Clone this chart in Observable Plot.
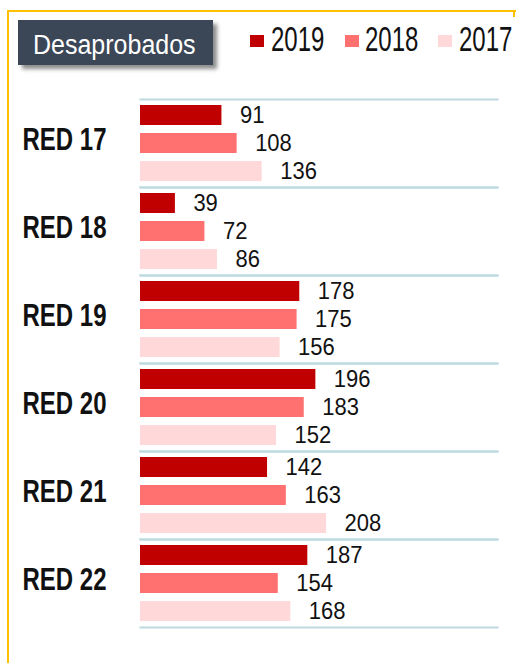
<!DOCTYPE html>
<html>
<head>
<meta charset="utf-8">
<script src="https://cdn.jsdelivr.net/npm/d3@7"></script>
<script src="https://cdn.jsdelivr.net/npm/@observablehq/plot@0.6"></script>
<style>
  html, body { margin: 0; padding: 0; background: #fff; }
  #page { position: relative; width: 516px; height: 663px; overflow: hidden; font-family: "Liberation Sans", Arial, sans-serif; }
  .yl { position: absolute; background: #ffc000; }
  #header { position: relative; height: 90px; }
  #titlebox { position: absolute; left: 18px; top: 20px; width: 195px; height: 45px; background: #3b4657; box-shadow: 4px 4px 4px rgba(0,0,0,0.45); }
  .stretch { position: absolute; white-space: nowrap; transform-origin: center center; }
  .sw { position: absolute; }
  #chart svg { display: block; overflow: visible; }
</style>
</head>
<body>
<div id="page">
  <div class="yl" style="left:7px; top:10px; width:509px; height:2px;"></div>
  <div class="yl" style="left:7px; top:10px; width:2px; height:653px;"></div>
  <div class="yl" style="left:513px; top:10px; width:2px; height:7px;"></div>
  <div id="header">
    <div id="titlebox"></div>
    <div class="stretch" id="title" style="left:33px; top:32px; font-size:25px; line-height:25px; color:#fff; transform:scaleY(1.1);">Desaprobados</div>
    <div id="legend"></div>
  </div>
  <div id="chart"></div>
</div>
<script>
const groups = ["RED 17", "RED 18", "RED 19", "RED 20", "RED 21", "RED 22"];
const years = ["2019", "2018", "2017"];
const values2019 = [91, 39, 178, 196, 142, 187];
const values2018 = [108, 72, 175, 183, 163, 154];
const values2017 = [136, 86, 156, 152, 208, 168];
const colors = ["#c00000", "#ff7171", "#ffd9d9"];

const seriesValues = [values2019, values2018, values2017];
const rows = [];
groups.forEach((g, gi) => {
  years.forEach((y, yi) => rows.push({group: g, year: y, value: seriesValues[yi][gi]}));
});

// legend
const legend = document.getElementById("legend");
const legendPos = [{sq: 250, tx: 271}, {sq: 345, tx: 365}, {sq: 438, tx: 459}];
years.forEach((y, i) => {
  const sq = document.createElement("div");
  sq.className = "sw";
  sq.style.cssText = `left:${legendPos[i].sq}px; top:35px; width:14px; height:12px; background:${colors[i]};`;
  legend.appendChild(sq);
  const t = document.createElement("div");
  t.className = "stretch";
  t.textContent = y;
  t.style.cssText = `left:${legendPos[i].tx}px; top:27px; font-size:24px; line-height:24px; color:#111; transform:scaleY(1.45);`;
  legend.appendChild(t);
});

const sepColor = "#bcd9df";
const plot = Plot.plot({
  width: 516,
  height: 573,
  marginTop: 8,
  marginBottom: 36,
  marginLeft: 140,
  marginRight: 19,
  style: {fontFamily: "'Liberation Sans', Arial, sans-serif", background: "transparent", overflow: "visible"},
  x: {domain: [0, 399], axis: null},
  y: {domain: years, paddingInner: 0.276, paddingOuter: 0.159, axis: null},
  fy: {domain: groups, padding: 0, axis: null},
  color: {domain: years, range: colors},
  marks: [
    Plot.frame({anchor: "top", stroke: sepColor, strokeWidth: 2}),
    Plot.frame({anchor: "bottom", stroke: sepColor, strokeWidth: 2}),
    Plot.barX(rows, {fy: "group", y: "year", x: "value", fill: "year"}),
    Plot.text(rows, {fy: "group", y: "year", x: "value", text: d => String(d.value), textAnchor: "start", dx: 18, fontSize: 22, fill: "#111"}),
    Plot.text(groups, {fy: d => d, text: d => d, frameAnchor: "left", textAnchor: "start", dx: -118, dy: -4, fontSize: 24, fontWeight: "bold", fill: "#111"})
  ]
});
document.getElementById("chart").appendChild(plot);

// vertical stretch of glyphs to mimic the condensed look of the original
d3.select(plot).selectAll("text").each(function() {
  const el = d3.select(this);
  const txt = el.text();
  const tr = el.attr("transform") || "";
  const s = txt.startsWith("RED") ? 1.34 : 1.1;
  el.attr("transform", tr + ` scale(1,${s})`);
});
</script>
</body>
</html>
